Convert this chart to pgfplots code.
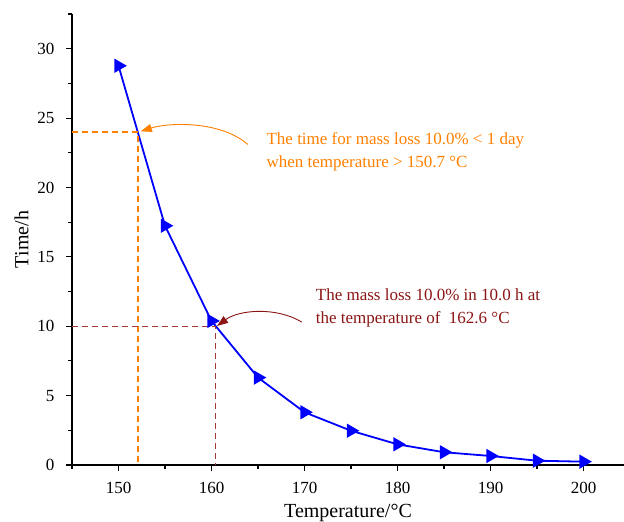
\documentclass[border=0pt]{standalone}
\usepackage{pgfplots}
\pgfplotsset{compat=1.18}
\usepackage{fontspec}
\setmainfont{Liberation Serif}
\usetikzlibrary{arrows.meta}
\definecolor{myorange}{RGB}{255,128,0}
\definecolor{mydarkred}{RGB}{140,20,20}
\definecolor{mydash}{RGB}{165,55,55}
\definecolor{myblue}{RGB}{0,0,255}
\begin{document}
\begin{tikzpicture}
\begin{axis}[
  scale only axis, width=552bp, height=451bp,
  xmin=145, xmax=204.35, ymin=0, ymax=32.5,
  axis x line=bottom, axis y line=left,
  axis line style={-, black, line width=1.3bp},
  xtick={150,160,...,200}, ytick={0,5,...,30},
  xticklabels={150,160,170,180,190,200},
  yticklabels={0,5,10,15,20,25,30},
  minor xtick={145,155,...,205}, minor ytick={2.5,7.5,...,32.5},
  tick align=outside, major tick length=6bp, minor tick length=4bp,
  every tick/.style={black, line width=1.1bp},
  tick label style={font=\fontsize{17bp}{20bp}\selectfont},
  xticklabel style={yshift=-8bp},
  yticklabel style={xshift=-8bp},
  label style={font=\fontsize{20bp}{24bp}\selectfont},
  xlabel={Temperature/°C},
  ylabel={Time/h},
  xlabel style={yshift=-3bp},
  ylabel style={yshift=2bp},
  clip=false,
]
\addplot[myblue, line width=1.8bp, mark=triangle*, mark size=6.5bp, mark options={rotate=-90, solid}]
coordinates {
(150,28.77) (155,17.24) (160,10.38) (165,6.30) (170,3.80) (175,2.47)
(180,1.49) (185,0.92) (190,0.65) (195,0.31) (200,0.24)
};
\addplot[myorange, line width=1.3bp, dash pattern=on 6bp off 4bp] coordinates {(145,24) (152.1,24) (152.1,0)};
\addplot[mydash, line width=1.3bp, dash pattern=on 6bp off 4bp] coordinates {(145,10) (160.4,10) (160.4,0)};
\draw[myorange, line width=0.9bp, -{Triangle[length=11bp,width=8bp]}] (axis cs:163.9,23.1) .. controls (axis cs:161,24.8) and (axis cs:155.5,24.7) .. (axis cs:152.4,24.05);
\draw[mydarkred, line width=0.9bp, -{Triangle[length=11bp,width=8bp]}] (axis cs:169.7,10.3) .. controls (axis cs:167,11.4) and (axis cs:163,11.2) .. (axis cs:160.6,10.02);
\node[anchor=west, align=left, text=myorange, inner sep=0pt, font=\fontsize{17bp}{23bp}\selectfont] at (axis cs:165.9,22.6) {The time for mass loss 10.0\% < 1 day\\when temperature > 150.7 °C};
\node[anchor=west, align=left, text=mydarkred, inner sep=0pt, font=\fontsize{17bp}{23bp}\selectfont] at (axis cs:171.2,11.35) {The mass loss 10.0\% in 10.0 h at\\the temperature of \ 162.6 °C};
\end{axis}
\pgfresetboundingbox
\path[use as bounding box] (-72bp,-57bp) rectangle (552bp,465bp);
\end{tikzpicture}
\end{document}
